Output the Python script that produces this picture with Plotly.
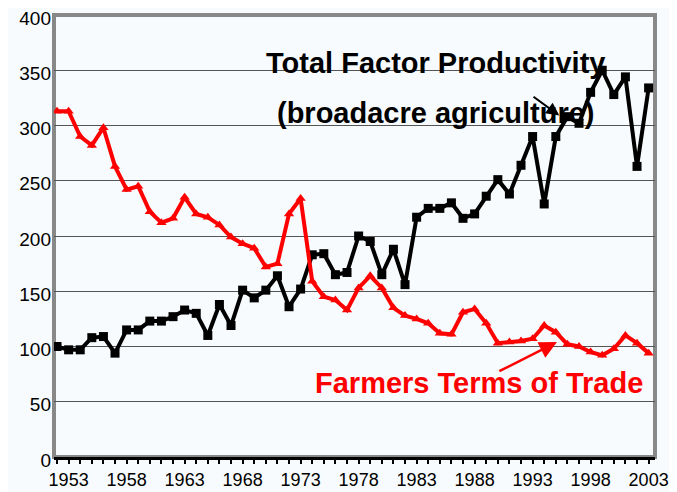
import plotly.graph_objects as go

# years 1952..2003 (52 observations)
years = list(range(1952, 2004))

tfp = [100, 97, 97, 108, 109, 94, 115, 115, 123, 123, 127, 133, 130,
       110, 138, 119, 151, 144, 151, 164, 136, 152, 183, 184, 165,
       167, 200, 195, 165, 188, 156, 217, 225, 225, 230, 216, 220,
       236, 251, 238, 264, 290, 229, 290, 308, 302, 330, 350, 328,
       344, 263, 334]

tot = [313, 313, 290, 282, 298, 263, 242, 245, 222, 212, 216, 235, 220,
       217, 210, 199, 193, 189, 172, 175, 220, 234, 159, 145, 142,
       133, 153, 164, 153, 135, 128, 125, 121, 112, 111, 131, 134,
       121, 103, 104, 105, 107, 119, 113, 102, 100, 95, 92, 98,
       110, 103, 94]

tick_years = list(range(1953, 2004, 5))

BG = "#F7FBFD"
FONT = "Liberation Sans, Arial, sans-serif"

fig = go.Figure()

fig.add_trace(go.Scatter(
    x=years, y=tfp, mode="lines+markers", name="Total Factor Productivity",
    line=dict(color="black", width=4),
    marker=dict(symbol="square", size=9, color="black"),
))
fig.add_trace(go.Scatter(
    x=years, y=tot, mode="lines+markers", name="Farmers Terms of Trade",
    line=dict(color="#FF0000", width=4),
    marker=dict(symbol="triangle-up", size=9, color="#FF0000"),
))

# text labels and pointer arrows
fig.add_annotation(x=1984.6, y=357, text="<b>Total Factor Productivity</b>",
                   showarrow=False, font=dict(size=29, color="black", family=FONT))
fig.add_annotation(x=1984.6, y=311, text="<b>(broadacre agriculture)</b>",
                   showarrow=False, font=dict(size=29, color="black", family=FONT))
fig.add_annotation(x=1988.4, y=67, text="<b>Farmers Terms of Trade</b>",
                   showarrow=False, font=dict(size=29, color="#FF0000", family=FONT))
fig.add_annotation(x=1995.3, y=309, ax=1992.95, ay=327, axref="x", ayref="y",
                   text="", showarrow=True, arrowhead=2, arrowsize=1.3,
                   arrowwidth=2, arrowcolor="black")
fig.add_annotation(x=1995.1, y=104, ax=1990.0, ay=77, axref="x", ayref="y",
                   text="", showarrow=True, arrowhead=2, arrowsize=1.4,
                   arrowwidth=2.5, arrowcolor="#FF0000")

# gray frame on left, top, right
fig.add_shape(type="rect", xref="paper", yref="paper", x0=0, x1=1, y0=0, y1=1,
              line=dict(color="#888888", width=4), layer="below")

# page body adds an 8px offset, so the figure is sized to fit the window
fig.update_layout(
    width=669, height=484,
    margin=dict(l=46, r=22, t=7, b=35),
    paper_bgcolor=BG, plot_bgcolor=BG,
    showlegend=False,
    font=dict(family=FONT, color="black"),
    xaxis=dict(
        range=[1951.74, 2003.55],
        tickvals=years,
        ticktext=[str(y) if y in tick_years else "" for y in years],
        ticks="outside", ticklen=4, tickwidth=2, tickcolor="black",
        showline=True, linecolor="black", linewidth=3,
        showgrid=False, zeroline=False, automargin=False,
        ticklabeloverflow="allow",
        tickfont=dict(size=18),
    ),
    yaxis=dict(
        range=[0, 400], dtick=50,
        showgrid=True, gridcolor="#555555", gridwidth=1,
        zeroline=False, showline=False, automargin=False,
        ticks="", ticklabelstandoff=2, ticklabeloverflow="allow",
        ticklabelshift=3,
        tickfont=dict(size=19),
    ),
)

fig.write_html("out.html")
